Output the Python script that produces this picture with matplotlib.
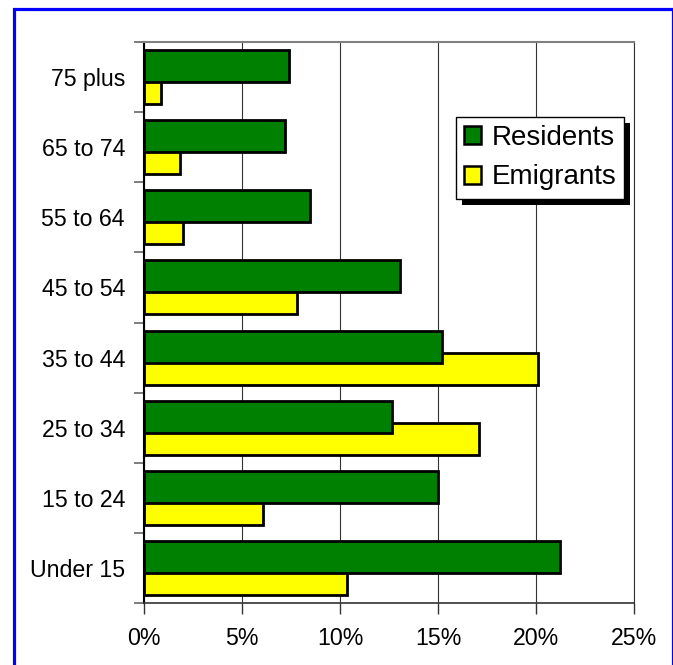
import matplotlib
matplotlib.use("Agg")
import matplotlib.pyplot as plt
import numpy as np
from matplotlib.patches import Rectangle
from matplotlib.transforms import IdentityTransform

# Age groups, bottom to top
categories = ["Under 15", "15 to 24", "25 to 34", "35 to 44", "45 to 54", "55 to 64", "65 to 74", "75 plus"]
residents = [21.2, 15.0, 12.65, 15.2, 13.05, 8.45, 7.2, 7.4]
emigrants = [10.35, 6.05, 17.1, 20.1, 7.8, 2.0, 1.85, 0.85]
x_ticks = [0, 5, 10, 15, 20, 25]

plt.rcParams["font.family"] = ["Liberation Sans", "DejaVu Sans"]
FS = 16.7
LEG_FS = 20

fig = plt.figure(figsize=(6.73, 6.65), dpi=100)
ax = fig.add_axes([144 / 673, 1 - 603 / 665, 490 / 673, 561 / 665])

y = np.arange(len(categories))
h = 0.457
off = 0.157
ax.barh(y - off, emigrants, height=h, color="#ffff00", edgecolor="black", linewidth=2, zorder=2)
ax.barh(y + off, residents, height=h, color="#008000", edgecolor="black", linewidth=2, zorder=3)

ax.set_xlim(0, 25)
ax.set_ylim(-0.5, len(categories) - 0.5)
ax.set_xticks(x_ticks)
ax.set_xticklabels([f"{v}%" for v in x_ticks], fontsize=FS)
ax.tick_params(axis="x", length=8, width=1, color="#333333", pad=9, direction="out")

ax.set_yticks(y)
ax.set_yticklabels(categories, fontsize=FS)
ax.tick_params(axis="y", which="major", length=0, pad=13.7)
ax.set_yticks(np.arange(len(categories) + 1) - 0.5, minor=True)
ax.tick_params(axis="y", which="minor", length=7, width=1.2, color="#666666", direction="out")

ax.xaxis.grid(True, color="#333333", linewidth=0.8, zorder=0)
ax.set_axisbelow(True)
ax.spines["left"].set_color("black")
ax.spines["left"].set_linewidth(1.5)
ax.spines["bottom"].set_color("#333333")
ax.spines["bottom"].set_linewidth(1.2)
ax.spines["top"].set_color("#808080")
ax.spines["top"].set_linewidth(1.5)
ax.spines["right"].set_color("#333333")
ax.spines["right"].set_linewidth(0.8)

leg = ax.legend(
    handles=[
        Rectangle((0, 0), 1, 1, facecolor="#008000", edgecolor="black", linewidth=1.8),
        Rectangle((0, 0), 1, 1, facecolor="#ffff00", edgecolor="black", linewidth=1.8),
    ],
    labels=["Residents", "Emigrants"],
    loc="upper left",
    bbox_to_anchor=(455.7 / 673, 1 - 116.7 / 665),
    bbox_transform=fig.transFigure,
    fontsize=LEG_FS,
    frameon=True,
    fancybox=False,
    framealpha=1,
    edgecolor="black",
    borderaxespad=0,
    borderpad=0.3,
    handlelength=0.62,
    handleheight=0.62,
    handletextpad=0.36,
    labelspacing=0.48,
)
leg.get_frame().set_linewidth(1.0)
leg.set_zorder(10)

# black drop shadow behind the legend box
fig.canvas.draw()
bb = leg.get_window_extent()
shadow = Rectangle((bb.x0 + 6, bb.y0 - 6), bb.width, bb.height, transform=IdentityTransform(),
                   facecolor="black", edgecolor="none", zorder=9)
ax.add_artist(shadow)

# blue frame around the whole picture
fig.patches.append(Rectangle((13.5 / 673, -0.02), (673 - 13.5) / 673, 1 - 8.5 / 665 + 0.02,
                             transform=fig.transFigure, fill=False, edgecolor="#0000ff",
                             linewidth=2.3, clip_on=False))

fig.savefig("out.png", dpi=100, facecolor="white")
